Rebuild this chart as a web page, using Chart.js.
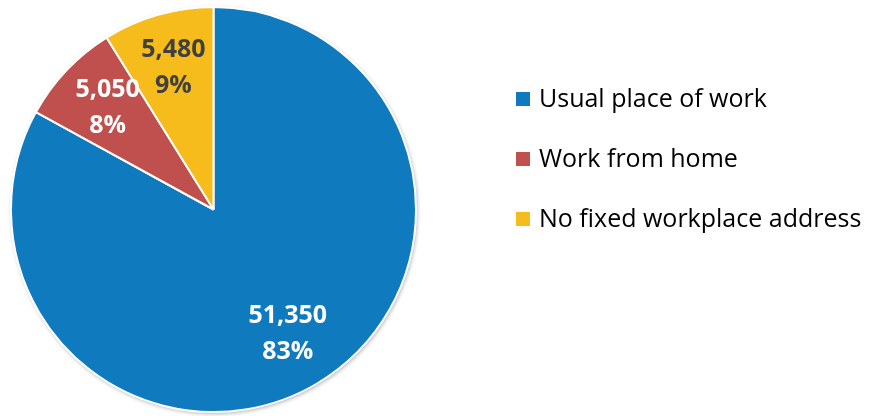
<!DOCTYPE html>
<html>
<head>
<meta charset="utf-8">
<script src="https://cdn.jsdelivr.net/npm/chart.js@4/dist/chart.umd.min.js"></script>
<style>
  html, body { margin: 0; padding: 0; background: #ffffff; }
  #wrap { width: 869px; height: 416px; position: relative; }
</style>
</head>
<body>
<div id="wrap"><canvas id="c" width="869" height="416"></canvas></div>
<script>
const categories = ["Usual place of work", "Work from home", "No fixed workplace address"];
const values = [51350, 5050, 5480];
const percentLabels = ["83%", "8%", "9%"];
const colors = ["#107ABF", "#C0504D", "#F5BC1C"];
const labelColors = ["#FFFFFF", "#FFFFFF", "#404040"];

const pieShadow = {
  id: 'pieShadow',
  beforeDatasetsDraw(chart) {
    const meta = chart.getDatasetMeta(0);
    if (!meta.data.length) return;
    const p = meta.data[0].getProps(['x', 'y', 'outerRadius'], true);
    const ctx = chart.ctx;
    ctx.save();
    ctx.shadowColor = 'rgba(0,0,0,0.35)';
    ctx.shadowBlur = 4;
    ctx.shadowOffsetX = 1;
    ctx.shadowOffsetY = 1.5;
    ctx.fillStyle = '#FFFFFF';
    ctx.beginPath();
    ctx.arc(p.x, p.y, p.outerRadius, 0, Math.PI * 2);
    ctx.fill();
    ctx.restore();
  }
};

const sliceLabels = {
  id: 'sliceLabels',
  afterDatasetsDraw(chart) {
    const ctx = chart.ctx;
    const meta = chart.getDatasetMeta(0);
    ctx.save();
    ctx.font = "bold 25px 'Open Sans'";
    ctx.textAlign = 'center';
    ctx.textBaseline = 'middle';
    meta.data.forEach((arc, i) => {
      const p = arc.getProps(['x', 'y', 'startAngle', 'endAngle', 'outerRadius'], true);
      const mid = (p.startAngle + p.endAngle) / 2;
      const r = p.outerRadius * 0.72;
      const cx = p.x + Math.cos(mid) * r;
      const cy = p.y + Math.sin(mid) * r;
      ctx.fillStyle = labelColors[i];
      ctx.fillText(values[i].toLocaleString('en-US'), cx, cy - 19);
      ctx.fillText(percentLabels[i], cx, cy + 17);
    });
    ctx.restore();
  }
};

const sideLegend = {
  id: 'sideLegend',
  afterDraw(chart) {
    const ctx = chart.ctx;
    ctx.save();
    ctx.font = "25px 'Open Sans'";
    ctx.textBaseline = 'middle';
    ctx.textAlign = 'left';
    chart.data.labels.forEach((lab, i) => {
      const y = 99 + 60 * i;
      ctx.fillStyle = chart.data.datasets[0].backgroundColor[i];
      ctx.fillRect(516, y - 7, 14, 14);
      ctx.fillStyle = '#000000';
      ctx.fillText(lab, 539, y + 1);
    });
    ctx.restore();
  }
};

new Chart(document.getElementById('c'), {
  type: 'pie',
  data: {
    labels: categories,
    datasets: [{
      data: values,
      backgroundColor: colors,
      borderColor: '#FFFFFF',
      borderWidth: 2
    }]
  },
  options: {
    responsive: false,
    animation: false,
    layout: { padding: { top: 6, bottom: 3, left: 10, right: 452 } },
    plugins: {
      legend: { display: false },
      tooltip: { enabled: false }
    }
  },
  plugins: [pieShadow, sliceLabels, sideLegend]
});
</script>
</body>
</html>
